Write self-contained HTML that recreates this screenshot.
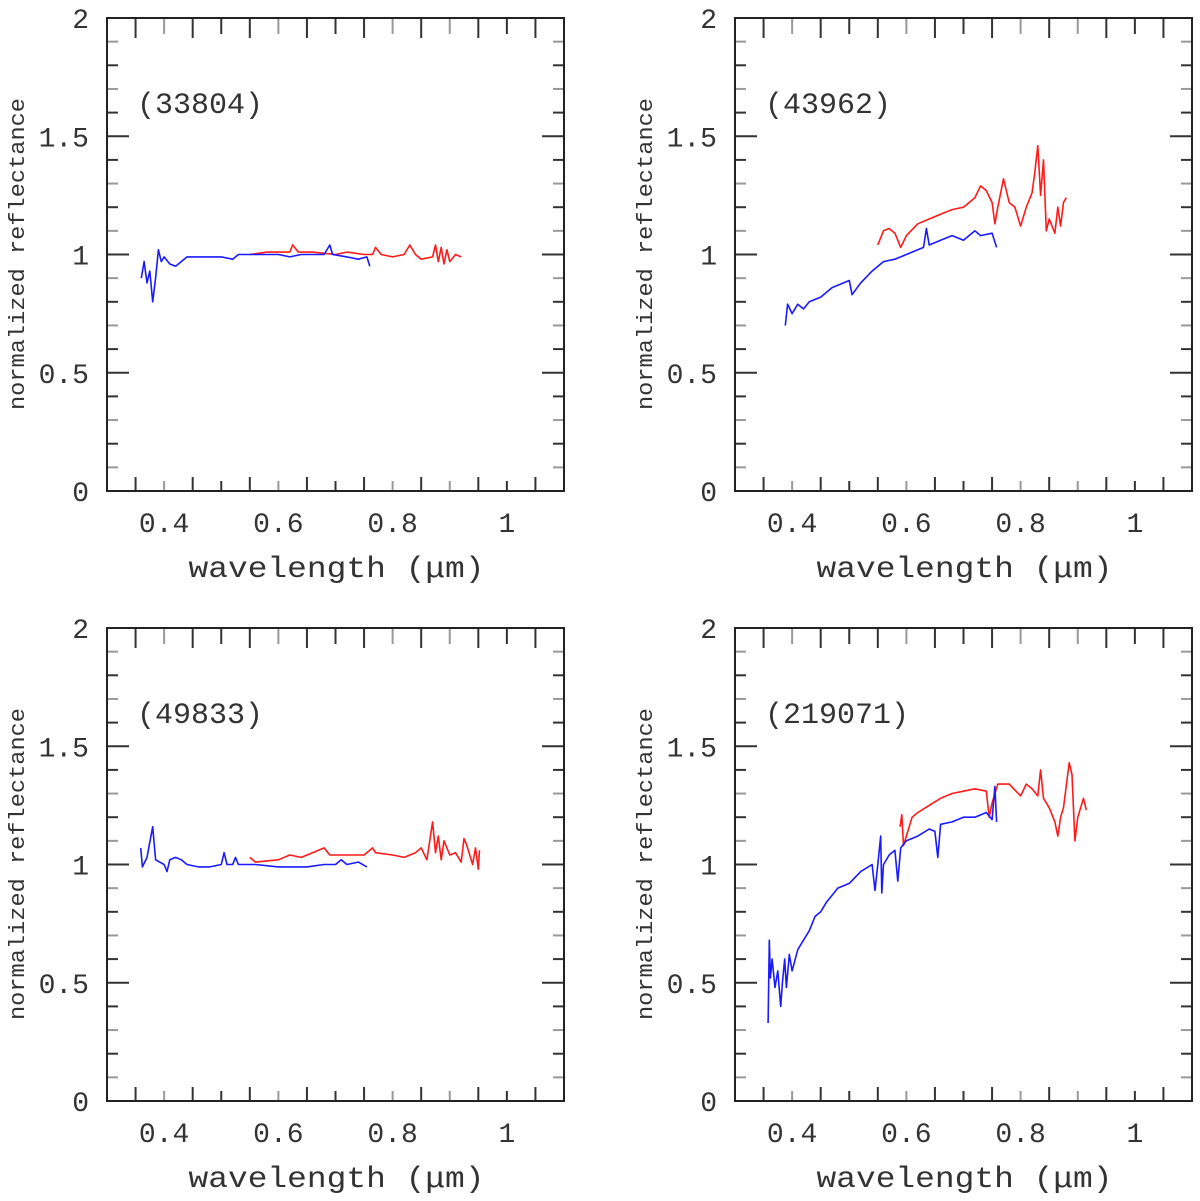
<!DOCTYPE html>
<html><head><meta charset="utf-8"><style>
html,body{margin:0;padding:0;background:#fff;}
svg{display:block;}
text{font-family:"Liberation Mono","DejaVu Sans Mono",monospace;fill:#333;}
</style></head><body>
<svg id="chart" width="1200" height="1201" viewBox="0 0 1200 1201" xmlns="http://www.w3.org/2000/svg"></svg>
<script>
// ---- data ----
const panelNames = ["(33804)", "(43962)", "(49833)", "(219071)"];
const xTicks = [0.4, 0.6, 0.8, 1];
const yTicks = [0, 0.5, 1, 1.5, 2];
const yTickLabels = ["0", "0.5", "1", "1.5", "2"];
const xTickLabels = ["0.4", "0.6", "0.8", "1"];

const blueX1 = [0.36,0.365,0.37,0.375,0.38,0.385,0.39,0.395,0.40,0.41,0.42,0.43,0.44,0.46,0.48,0.50,0.52,0.53,0.56,0.60,0.62,0.64,0.68,0.69,0.695,0.72,0.74,0.755,0.76];
const blueY1 = [0.90,0.97,0.88,0.93,0.80,0.90,1.02,0.97,0.99,0.96,0.95,0.97,0.99,0.99,0.99,0.99,0.98,1.00,1.00,1.00,0.99,1.00,1.00,1.04,1.00,0.99,0.98,0.99,0.95];
const redX1 = [0.55,0.58,0.60,0.62,0.625,0.635,0.66,0.70,0.72,0.75,0.765,0.77,0.78,0.80,0.82,0.83,0.84,0.85,0.87,0.875,0.88,0.885,0.89,0.895,0.90,0.91,0.92];
const redY1 = [1.00,1.01,1.01,1.01,1.04,1.01,1.01,1.00,1.01,1.00,1.00,1.03,1.00,0.99,1.00,1.04,1.00,0.98,0.99,1.04,0.97,1.03,0.96,1.02,0.97,1.00,0.99];

const blueX2 = [0.388,0.392,0.40,0.41,0.42,0.43,0.45,0.47,0.50,0.505,0.52,0.54,0.56,0.58,0.60,0.62,0.63,0.635,0.64,0.66,0.68,0.70,0.72,0.73,0.75,0.758];
const blueY2 = [0.70,0.79,0.75,0.79,0.77,0.80,0.82,0.86,0.89,0.83,0.88,0.93,0.97,0.98,1.00,1.02,1.03,1.11,1.04,1.06,1.08,1.06,1.10,1.08,1.09,1.03];
const redX2 = [0.55,0.56,0.57,0.58,0.59,0.60,0.62,0.64,0.66,0.68,0.70,0.72,0.73,0.74,0.75,0.755,0.76,0.77,0.78,0.79,0.80,0.81,0.82,0.825,0.83,0.835,0.84,0.845,0.85,0.86,0.865,0.87,0.875,0.88];
const redY2 = [1.04,1.10,1.11,1.09,1.03,1.08,1.13,1.15,1.17,1.19,1.20,1.24,1.29,1.27,1.22,1.13,1.20,1.32,1.22,1.20,1.12,1.20,1.26,1.35,1.46,1.25,1.40,1.10,1.15,1.09,1.20,1.12,1.22,1.24];

const blueX3 = [0.359,0.362,0.37,0.38,0.385,0.40,0.405,0.41,0.42,0.43,0.44,0.46,0.48,0.50,0.505,0.51,0.52,0.525,0.53,0.56,0.60,0.65,0.68,0.70,0.71,0.72,0.74,0.755];
const blueY3 = [1.07,0.99,1.03,1.16,1.02,1.00,0.97,1.02,1.03,1.02,1.00,0.99,0.99,1.00,1.05,1.00,1.00,1.03,1.00,1.00,0.99,0.99,1.00,1.00,1.02,1.00,1.01,0.99];
const redX3 = [0.55,0.56,0.60,0.62,0.64,0.66,0.68,0.69,0.72,0.75,0.765,0.77,0.80,0.82,0.84,0.85,0.86,0.87,0.875,0.88,0.885,0.89,0.90,0.91,0.92,0.925,0.93,0.94,0.945,0.95,0.952];
const redY3 = [1.03,1.01,1.02,1.04,1.03,1.05,1.07,1.04,1.04,1.04,1.07,1.05,1.04,1.03,1.05,1.07,1.02,1.18,1.05,1.12,1.02,1.10,1.04,1.05,1.01,1.11,1.08,1.00,1.07,0.98,1.06];

const blueX4 = [0.358,0.36,0.362,0.365,0.37,0.375,0.38,0.383,0.387,0.39,0.395,0.40,0.41,0.42,0.43,0.44,0.45,0.46,0.47,0.48,0.50,0.52,0.54,0.545,0.55,0.555,0.557,0.56,0.57,0.58,0.585,0.59,0.60,0.62,0.64,0.65,0.655,0.66,0.68,0.70,0.72,0.74,0.75,0.755,0.758];
const blueY4 = [0.33,0.68,0.52,0.60,0.48,0.55,0.40,0.50,0.60,0.48,0.62,0.55,0.64,0.68,0.72,0.78,0.80,0.84,0.87,0.90,0.92,0.97,1.00,0.89,1.00,1.12,0.88,1.00,1.04,1.06,0.93,1.07,1.10,1.12,1.15,1.14,1.03,1.17,1.18,1.20,1.20,1.22,1.19,1.33,1.18];
const redX4 = [0.589,0.592,0.595,0.60,0.61,0.62,0.64,0.66,0.68,0.70,0.72,0.74,0.745,0.75,0.76,0.78,0.80,0.81,0.82,0.83,0.835,0.84,0.85,0.86,0.865,0.87,0.875,0.885,0.89,0.895,0.90,0.91,0.915];
const redY4 = [1.16,1.21,1.08,1.12,1.20,1.22,1.25,1.28,1.30,1.31,1.32,1.31,1.20,1.26,1.34,1.34,1.29,1.34,1.32,1.29,1.40,1.28,1.24,1.18,1.12,1.20,1.24,1.43,1.38,1.10,1.20,1.28,1.23];

const blueXs=[blueX1,blueX2,blueX3,blueX4], blueYs=[blueY1,blueY2,blueY3,blueY4];
const redXs=[redX1,redX2,redX3,redX4], redYs=[redY1,redY2,redY3,redY4];

// ---- layout ----
const NS="http://www.w3.org/2000/svg";
const svg=document.getElementById('chart');
const origins=[[107,18],[735,18],[107,628],[735,628]];
const W=457,H=473, XMIN=0.3,XMAX=1.1,YMIN=0,YMAX=2;
function mk(tag,attrs,parent){const e=document.createElementNS(NS,tag);for(const k in attrs)e.setAttribute(k,attrs[k]);(parent||svg).appendChild(e);return e;}

for(let p=0;p<4;p++){
  const [ox,oy]=origins[p];
  const sx=v=>ox+(v-XMIN)/(XMAX-XMIN)*W;
  const sy=v=>oy+H-(v-YMIN)/(YMAX-YMIN)*H;
  const g=mk('g',{});
  
  
  for(let i=1;i<16;i++){
    const v=XMIN+i*0.05, major=(i%2===1);
    const x=sx(v), len=major?14:10;
    const col=(i===2||i===10)?'#999':(i%3===0&&!major?'#999':'#333');
    const t1=mk('line',{x1:x,x2:x,y1:oy+H,y2:oy+H-len,stroke:col,'stroke-width':2},g);
    
    
    const t2=mk('line',{x1:x,x2:x,y1:oy,y2:oy+len+6,stroke:col,'stroke-width':2},g);
    
    
  }
  for(let i=1;i<20;i++){
    const v=i*0.1, major=(i%5===0);
    const y=sy(v), len=major?22:11;
    const col=major?'#333':(i%2===0?'#333':'#999');
    const t1=mk('line',{x1:ox,x2:ox+len,y1:y,y2:y,stroke:col,'stroke-width':2},g);
    
    
    const t2=mk('line',{x1:ox+W,x2:ox+W-len,y1:y,y2:y,stroke:col,'stroke-width':2},g);
    
    
  }
  const fr=mk('rect',{x:ox,y:oy,width:W,height:H,fill:'none',stroke:'#222','stroke-width':2},g);
  
  
  yTicks.forEach((v,i)=>{
    const t=mk('text',{x:ox-18,y:sy(v)+10,'text-anchor':'end','font-size':28},g);
    t.textContent=yTickLabels[i];
    
    
  });
  xTicks.forEach((v,i)=>{
    const t=mk('text',{x:sx(v),y:oy+H+41,'text-anchor':'middle','font-size':28},g);
    t.textContent=xTickLabels[i];
    
    
  });
  const xl=mk('text',{x:ox+W/2+1,y:oy+H+86,'text-anchor':'middle','font-size':30,textLength:296,lengthAdjust:'spacingAndGlyphs'},g);
  xl.textContent='wavelength (μm)';
  
  
  const yl=mk('text',{x:0,y:0,'text-anchor':'middle','font-size':22,textLength:312,lengthAdjust:'spacingAndGlyphs',transform:`translate(${ox-83},${oy+236}) rotate(-90)`},g);
  yl.textContent='normalized reflectance';
  
  
  const nl=mk('text',{x:ox+30,y:oy+95,'font-size':30},g);
  nl.textContent=panelNames[p];
  
  
  const path=(xs,ys)=>xs.map((x,i)=>(i?'L':'M')+sx(x).toFixed(1)+','+sy(ys[i]).toFixed(1)).join('');
  const rl=mk('path',{d:path(redXs[p],redYs[p]),fill:'none',stroke:'#ff1a1a','stroke-width':1.6,'stroke-linejoin':'round'},g);
  
  
  const bl=mk('path',{d:path(blueXs[p],blueYs[p]),fill:'none',stroke:'#1a1aff','stroke-width':1.6,'stroke-linejoin':'round'},g);
  
  
}
</script>
</body></html>
